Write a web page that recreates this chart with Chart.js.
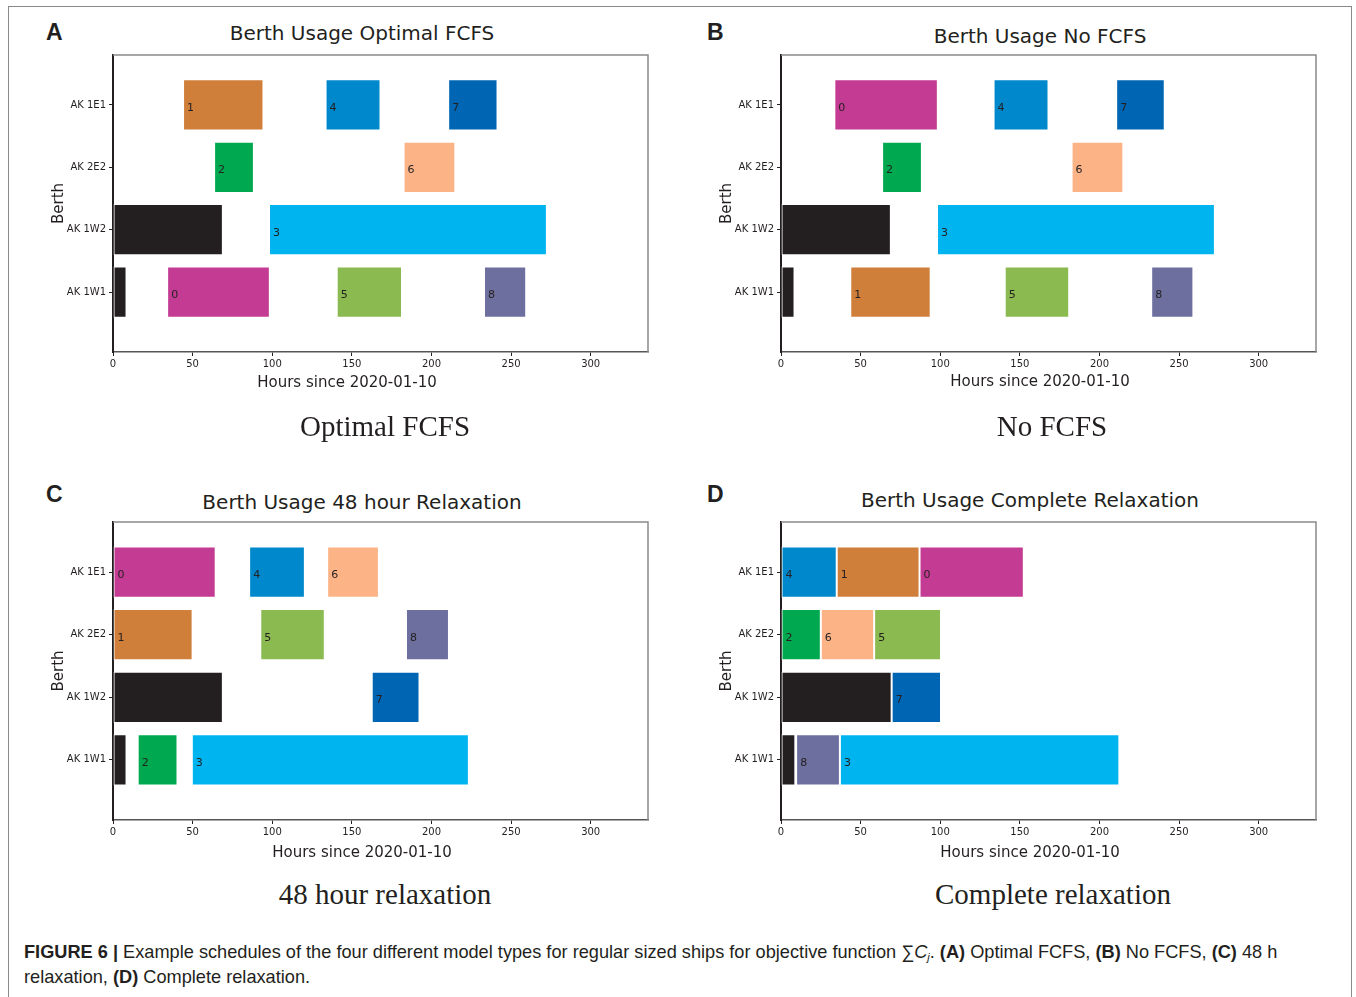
<!DOCTYPE html>
<html>
<head>
<meta charset="utf-8">
<script src="https://cdn.jsdelivr.net/npm/chart.js@4"></script>
<style>
  body { margin: 0; background: #fff; }
  #page { position: relative; width: 1356px; height: 997px; overflow: hidden; font-family: "DejaVu Sans", sans-serif; color: #231f20; }
  #frame { position: absolute; left: 8px; top: 6px; width: 1342px; height: 1000px; border: 1.5px solid #8a8a8a; border-bottom: none; }
  .panel { position: absolute; width: 620px; height: 340px; }
  .t { position: absolute; white-space: nowrap; transform: translate(-50%, -50%); line-height: 1; }
  .title { font-size: 20px; }
  .xt { font-size: 15px; }
  .sub { font-family: "Liberation Serif", serif; font-size: 29px; }
  .letter { position: absolute; font-family: "Liberation Sans", Arial, sans-serif; font-weight: bold; font-size: 23px; line-height: 1; transform: translateY(-50%); }
  #caption { position: absolute; left: 24px; top: 940px; font-family: "Liberation Sans", Arial, sans-serif; font-size: 18.2px; line-height: 25px; color: #231f20; white-space: nowrap; }
  #caption sub { font-size: 11px; line-height: 0; vertical-align: -3px; }
</style>
</head>
<body>
<div id="page">
  <div id="frame"></div>

  <div class="letter" style="left:46px; top:32px">A</div>
  <div class="letter" style="left:707px; top:32px">B</div>
  <div class="letter" style="left:46px; top:494px">C</div>
  <div class="letter" style="left:707px; top:494px">D</div>

  <div class="t title" style="left:362px; top:33px">Berth Usage Optimal FCFS</div>
  <div class="t title" style="left:1040px; top:36px">Berth Usage No FCFS</div>
  <div class="t title" style="left:362px; top:502px">Berth Usage 48 hour Relaxation</div>
  <div class="t title" style="left:1030px; top:500px">Berth Usage Complete Relaxation</div>

  <div class="panel" style="left:40px; top:50px"><canvas id="chartA" width="620" height="340"></canvas></div>
  <div class="panel" style="left:708px; top:50px"><canvas id="chartB" width="620" height="340"></canvas></div>
  <div class="panel" style="left:40px; top:517px"><canvas id="chartC" width="620" height="340"></canvas></div>
  <div class="panel" style="left:708px; top:517px"><canvas id="chartD" width="620" height="340"></canvas></div>

  <div class="t xt" style="left:347px; top:382px">Hours since 2020-01-10</div>
  <div class="t xt" style="left:1040px; top:381px">Hours since 2020-01-10</div>
  <div class="t xt" style="left:362px; top:852px">Hours since 2020-01-10</div>
  <div class="t xt" style="left:1030px; top:852px">Hours since 2020-01-10</div>

  <div class="t sub" style="left:385px; top:426px">Optimal FCFS</div>
  <div class="t sub" style="left:1052px; top:426px">No FCFS</div>
  <div class="t sub" style="left:385px; top:894px">48 hour relaxation</div>
  <div class="t sub" style="left:1053px; top:894px">Complete relaxation</div>

  <div id="caption"><b>FIGURE 6 |</b> Example schedules of the four different model types for regular sized ships for objective function &sum;<i>C<sub>j</sub></i>. <b>(A)</b> Optimal FCFS, <b>(B)</b> No FCFS, <b>(C)</b> 48 h<br>relaxation, <b>(D)</b> Complete relaxation.</div>
</div>

<script>
// Berths, bottom to top (index = y position)
const berths = ["AK 1W1", "AK 1W2", "AK 2E2", "AK 1E1"];
const xMax = 336;

// Ship colours by ship number, "" = berth already occupied
const shipColors = {
  "": "#231f20",
  "0": "#c43b93",
  "1": "#d07f3a",
  "2": "#00a94f",
  "3": "#00b4f0",
  "4": "#0088cc",
  "5": "#8aba50",
  "6": "#fcb386",
  "7": "#0066b3",
  "8": "#6d6f9f",
};

// (A) Optimal FCFS
const optShip  = ["", "0", "5", "8", "", "3", "2", "6", "1", "4", "7"];
const optBerth = [0, 0, 0, 0, 1, 1, 2, 2, 3, 3, 3];
const optStart = [0, 34, 140.5, 233, 0, 98, 63.5, 182.5, 44, 133.5, 210.5];
const optEnd   = [8.5, 98.5, 181.5, 259.5, 69, 272.5, 88.5, 215, 94.5, 168, 241.5];

// (B) No FCFS
const noShip  = ["", "1", "5", "8", "", "3", "2", "6", "0", "4", "7"];
const noBerth = [0, 0, 0, 0, 1, 1, 2, 2, 3, 3, 3];
const noStart = [0, 43.5, 140.5, 232.5, 0, 98, 63.5, 182.5, 33.5, 133.5, 210.5];
const noEnd   = [8.5, 94, 181, 259, 69, 272.5, 88.5, 215, 98.5, 168, 241];

// (C) 48 hour relaxation
const relShip  = ["", "2", "3", "", "7", "1", "5", "8", "0", "4", "6"];
const relBerth = [0, 0, 0, 1, 1, 2, 2, 2, 3, 3, 3];
const relStart = [0, 15.5, 49.5, 0, 162.5, 0, 92.5, 184, 0, 85.5, 134.5];
const relEnd   = [8.5, 40.5, 223.5, 69, 192.5, 50, 133, 211, 64.5, 120.5, 167];

// (D) Complete relaxation
const fullShip  = ["", "8", "3", "", "7", "2", "6", "5", "4", "1", "0"];
const fullBerth = [0, 0, 0, 1, 1, 2, 2, 2, 3, 3, 3];
const fullStart = [0, 9.5, 37, 0, 69.5, 0, 25, 58.5, 0, 35, 87];
const fullEnd   = [9, 37, 212.5, 69.5, 100.5, 25, 58.5, 100.5, 35, 87, 152.5];

// top and right spines + ship numbers on the bars
const extras = {
  id: "extras",
  afterDatasetsDraw(chart) {
    const { ctx, chartArea: a } = chart;
    ctx.save();
    ctx.strokeStyle = "#8a8a8a";
    ctx.lineWidth = 1.5;
    ctx.beginPath();
    ctx.moveTo(a.left, a.top);
    ctx.lineTo(a.right, a.top);
    ctx.lineTo(a.right, a.bottom);
    ctx.stroke();

    const ds = chart.data.datasets[0];
    const meta = chart.getDatasetMeta(0);
    ctx.font = "11px 'DejaVu Sans'";
    ctx.fillStyle = "#231f20";
    ctx.textBaseline = "middle";
    meta.data.forEach((bar, i) => {
      const ship = ds.ships[i];
      if (!ship) return;
      const p = bar.getProps(["x", "y", "base"], true);
      ctx.fillText(ship, Math.min(p.x, p.base) + 4, p.y + 3);
    });
    ctx.restore();
  },
};

function makeChart(id, ships, berthIdx, starts, ends) {
  const ctx = document.getElementById(id).getContext("2d");
  const top = id === "chartA" || id === "chartB";
  return new Chart(ctx, {
    type: "bar",
    data: {
      datasets: [
        {
          ships: ships,
          data: ships.map((s, i) => ({ x: [starts[i], ends[i]], y: berthIdx[i] })),
          backgroundColor: ships.map((s) => shipColors[s]),
          borderColor: "rgba(255,255,255,0.85)",
          borderWidth: 1,
          borderSkipped: false,
          barPercentage: 0.82,
          categoryPercentage: 1,
        },
      ],
    },
    options: {
      indexAxis: "y",
      responsive: false,
      animation: false,
      layout: { padding: { left: 0, top: 5, right: 12, bottom: 0 } },
      plugins: { legend: { display: false }, tooltip: { enabled: false } },
      scales: {
        x: {
          type: "linear",
          min: 0,
          max: xMax,
          afterBuildTicks: (scale) => {
            scale.ticks = [0, 50, 100, 150, 200, 250, 300].map((v) => ({ value: v }));
          },
          afterFit: (scale) => { scale.height = top ? 38 : 37; },
          grid: { display: true, drawOnChartArea: false, drawTicks: true, tickLength: 4, color: "#231f20", lineWidth: 1 },
          border: { display: true, color: "#555", width: 1.5 },
          ticks: { color: "#231f20", padding: 2, font: { family: "DejaVu Sans", size: 10 } },
        },
        y: {
          type: "linear",
          min: -0.96,
          max: 3.8,
          offset: false,
          afterBuildTicks: (scale) => {
            scale.ticks = berths.map((b, i) => ({ value: i }));
          },
          afterFit: (scale) => {
            scale.width = 73;
            scale.paddingTop = 0;
            scale.paddingBottom = 0;
          },
          grid: { display: true, offset: false, drawOnChartArea: false, drawTicks: true, tickLength: 4, color: "#231f20", lineWidth: 1 },
          border: { display: true, color: "#231f20", width: 2 },
          ticks: {
            color: "#231f20",
            padding: 3,
            font: { family: "DejaVu Sans", size: 10 },
            callback: (v) => berths[v],
          },
          title: {
            display: true,
            text: "Berth",
            color: "#231f20",
            padding: { top: 10, bottom: 0 },
            font: { family: "DejaVu Sans", size: 15 },
          },
        },
      },
    },
    plugins: [extras],
  });
}

makeChart("chartA", optShip, optBerth, optStart, optEnd);
makeChart("chartB", noShip, noBerth, noStart, noEnd);
makeChart("chartC", relShip, relBerth, relStart, relEnd);
makeChart("chartD", fullShip, fullBerth, fullStart, fullEnd);
</script>
</body>
</html>
